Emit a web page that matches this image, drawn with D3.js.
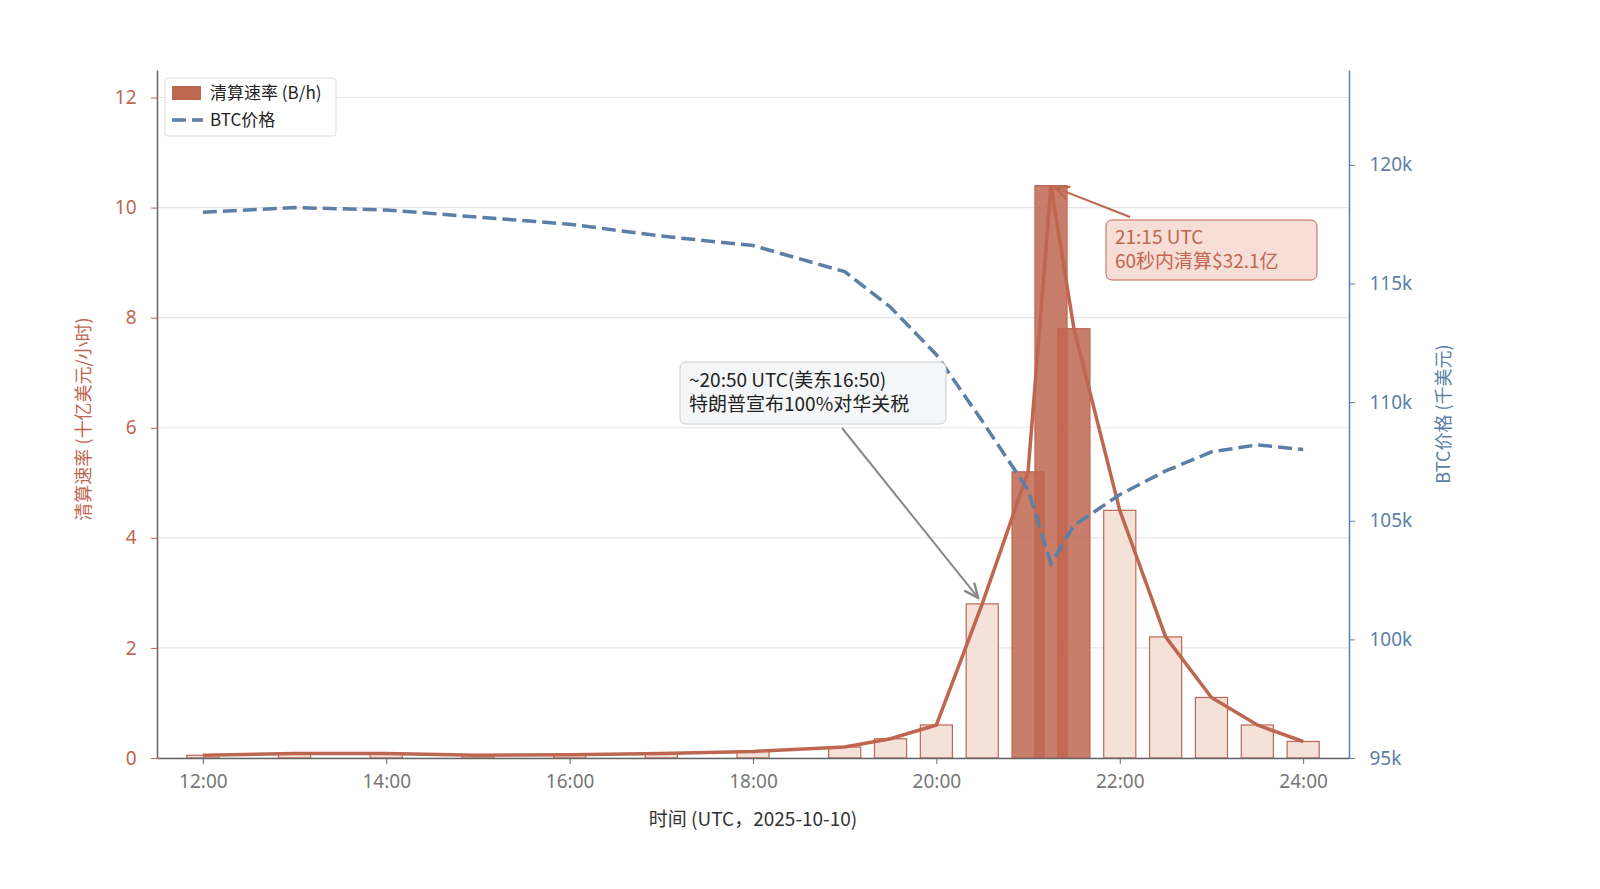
<!DOCTYPE html>
<html><head><meta charset="utf-8">
<script src="https://cdn.jsdelivr.net/npm/d3@7.9.0/dist/d3.min.js"></script>
<style>body{margin:0;background:#fff;font-family:"Noto Sans CJK SC","Noto Sans",sans-serif}</style>
</head><body><svg id="c" width="1600" height="889"></svg>
<script>
// data
const barTimes = [12, 13, 14, 15, 16, 17, 18, 19, 19.5, 20, 20.5, 21, 21.25, 21.5, 22, 22.5, 23, 23.5, 24];
const liqRate  = [0.05, 0.08, 0.08, 0.05, 0.06, 0.08, 0.12, 0.2, 0.35, 0.6, 2.8, 5.2, 10.4, 7.8, 4.5, 2.2, 1.1, 0.6, 0.3];
const peakTimes = [21, 21.25, 21.5];
const priceTimes = [12, 13, 14, 15, 16, 17, 18, 19, 19.5, 20, 20.5, 21, 21.25, 21.5, 22, 22.5, 23, 23.5, 24];
const btcPrice   = [118.0, 118.2, 118.1, 117.8, 117.5, 117.0, 116.6, 115.5, 114.0, 112.0, 109.2, 106.3, 103.2, 104.8, 106.1, 107.1, 107.9, 108.2, 108.0];
const xTicks = [12, 14, 16, 18, 20, 22, 24];
const leftTicks = [0, 2, 4, 6, 8, 10, 12];
const rightTicks = [95, 100, 105, 110, 115, 120];

const red = "#bf6651", blue = "#5b7fa6", grey = "#666";
const svg = d3.select("#c");
const L = 157, R = 1349, T = 70, B = 758;
const x = d3.scaleLinear().domain([11.5, 24.5]).range([L, R]);
const y = d3.scaleLinear().domain([0, 12.5]).range([B, T]);
const y2 = d3.scaleLinear().domain([95, 124]).range([B, T]);
const bw = x(12.35) - x(12);

// grid
svg.append("g").selectAll("line").data(leftTicks).join("line")
  .attr("x1", L).attr("x2", R).attr("y1", d => y(d)).attr("y2", d => y(d))
  .attr("stroke", "#e6e6e6").attr("stroke-width", 1.2);

// bars
const bars = barTimes.map((t, i) => ({t, v: liqRate[i], peak: peakTimes.includes(t)}));
svg.append("g").selectAll("rect").data(bars).join("rect")
  .attr("x", d => x(d.t) - bw / 2).attr("width", bw)
  .attr("y", d => y(d.v)).attr("height", d => y(0) - y(d.v))
  .attr("fill", d => d.peak ? red : "#f4e1da").attr("fill-opacity", d => d.peak ? 0.85 : 1)
  .attr("stroke", red).attr("stroke-width", 1.2);

// liquidation line
svg.append("path").datum(bars)
  .attr("d", d3.line().x(d => x(d.t)).y(d => y(d.v)))
  .attr("fill", "none").attr("stroke", red).attr("stroke-width", 3.5);

// price line
svg.append("path").datum(priceTimes.map((t, i) => [t, btcPrice[i]]))
  .attr("d", d3.line().x(d => x(d[0])).y(d => y2(d[1])))
  .attr("fill", "none").attr("stroke", blue).attr("stroke-width", 3.5).attr("stroke-dasharray", "14,6");

// axes
const fmt = d => d === 24 ? "24:00" : d + ":00";
const ax = svg.append("g").attr("transform", `translate(0,${B})`).call(d3.axisBottom(x).tickValues(xTicks).tickFormat(fmt).tickSize(6).tickSizeOuter(0));
ax.select(".domain").attr("stroke", grey).attr("stroke-width", 1.5);
ax.selectAll(".tick line").attr("stroke", grey);
ax.selectAll("text").attr("fill", "#777").attr("font-size", 19).attr("dy", "1.1em").attr("font-family", "Noto Sans");

const al = svg.append("g").attr("transform", `translate(${L},0)`).call(d3.axisLeft(y).tickValues(leftTicks).tickSize(6).tickSizeOuter(0));
al.select(".domain").attr("stroke", grey).attr("stroke-width", 1.5);
al.selectAll(".tick line").attr("stroke", red);
al.selectAll("text").attr("fill", red).attr("font-size", 19).attr("dx", "-0.6em").attr("font-family", "Noto Sans");

const ar = svg.append("g").attr("transform", `translate(${R},0)`).call(d3.axisRight(y2).tickValues(rightTicks).tickFormat(d => d + "k").tickSize(6).tickSizeOuter(0));
ar.select(".domain").attr("stroke", blue).attr("stroke-width", 1.5);
ar.selectAll(".tick line").attr("stroke", blue);
ar.selectAll("text").attr("fill", blue).attr("font-size", 19).attr("dx", "0.6em").attr("font-family", "Noto Sans");

// axis titles
svg.append("text").attr("x", (L + R) / 2).attr("y", 826).attr("text-anchor", "middle")
  .attr("font-size", 19).attr("fill", "#333").text("时间 (UTC，2025-10-10)");
svg.append("text").attr("transform", `translate(90,${(T + B) / 2 + 5}) rotate(-90)`).attr("text-anchor", "middle")
  .attr("font-size", 18).attr("fill", red).text("清算速率 (十亿美元/小时)");
svg.append("text").attr("transform", `translate(1450,${(T + B) / 2}) rotate(-90)`).attr("text-anchor", "middle")
  .attr("font-size", 18).attr("fill", blue).text("BTC价格 (千美元)");

// legend
const lg = svg.append("g");
lg.append("rect").attr("x", 165).attr("y", 78).attr("width", 171).attr("height", 58).attr("rx", 3)
  .attr("fill", "#fff").attr("fill-opacity", 0.9).attr("stroke", "#ddd");
lg.append("rect").attr("x", 172).attr("y", 86).attr("width", 29).attr("height", 14).attr("fill", red);
lg.append("text").attr("x", 210).attr("y", 99).attr("font-size", 17).attr("fill", "#222").text("清算速率 (B/h)");
lg.append("line").attr("x1", 172).attr("x2", 203).attr("y1", 120).attr("y2", 120)
  .attr("stroke", blue).attr("stroke-width", 3.5).attr("stroke-dasharray", "14,6");
lg.append("text").attr("x", 210).attr("y", 126).attr("font-size", 17).attr("fill", "#222").text("BTC价格");

// annotations
svg.append("defs").html(`<marker id="ag" viewBox="0 0 10 10" refX="9" refY="5" markerWidth="8" markerHeight="8" orient="auto"><path d="M0,1 L9,5 L0,9" fill="none" stroke="#888" stroke-width="1.5"/></marker>
<marker id="ar" viewBox="0 0 10 10" refX="9" refY="5" markerWidth="8" markerHeight="8" orient="auto"><path d="M0,1 L9,5 L0,9" fill="none" stroke="${red}" stroke-width="1.5"/></marker>`);
svg.append("line").attr("x1", 842).attr("y1", 428).attr("x2", x(20.5) - 4).attr("y2", y(2.8) - 6)
  .attr("stroke", "#888").attr("stroke-width", 2).attr("marker-end", "url(#ag)");
svg.append("rect").attr("x", 680).attr("y", 362).attr("width", 266).attr("height", 62).attr("rx", 6)
  .attr("fill", "#f5f6f7").attr("stroke", "#ccc");
svg.append("text").attr("x", 689).attr("y", 387).attr("font-size", 19).attr("fill", "#222").text("~20:50 UTC(美东16:50)");
svg.append("text").attr("x", 689).attr("y", 411).attr("font-size", 19).attr("fill", "#222").text("特朗普宣布100%对华关税");

svg.append("line").attr("x1", 1130).attr("y1", 217).attr("x2", x(21.25) + 4).attr("y2", y(10.4) + 2)
  .attr("stroke", red).attr("stroke-width", 2).attr("marker-end", "url(#ar)");
svg.append("rect").attr("x", 1106).attr("y", 220).attr("width", 211).attr("height", 60).attr("rx", 6)
  .attr("fill", "#f6ddd5").attr("stroke", red);
svg.append("text").attr("x", 1115).attr("y", 244).attr("font-size", 19).attr("fill", red).text("21:15 UTC");
svg.append("text").attr("x", 1115).attr("y", 268).attr("font-size", 19).attr("fill", red).text("60秒内清算$32.1亿");
</script></body></html>
